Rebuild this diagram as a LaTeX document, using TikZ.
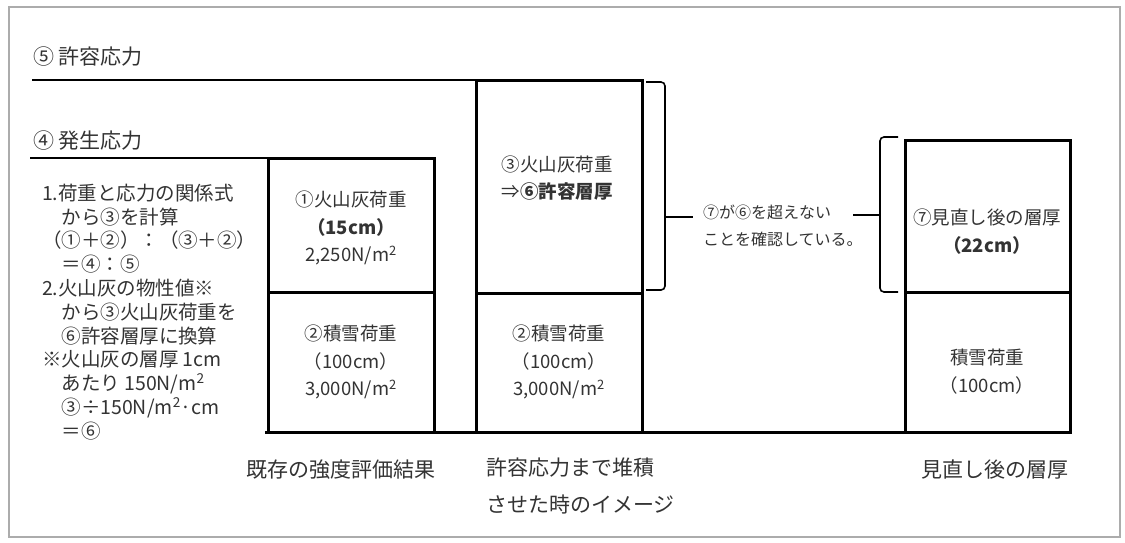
\documentclass[tikz,border=0pt]{standalone}
\usepackage{fontspec}
\setmainfont{Noto Sans CJK JP}
\usetikzlibrary{positioning}

\begin{document}
\begin{tikzpicture}
  [x=1pt,y=-1pt,every node/.style={inner sep=0pt,outer sep=0pt,text=black!80},
   bx/.style={draw=black,line width=3pt,minimum width=166pt},
   head/.style={font=\fontsize{21}{24}\selectfont,anchor=west},
   inbox/.style={font=\fontsize{18.5}{27.5}\selectfont,align=center},
   notes/.style={font=\fontsize{19.5}{23.8}\selectfont,align=left},
   small/.style={font=\fontsize{16}{27}\selectfont,align=left},
   brace/.style={line width=1.6pt,rounded corners=4pt}]
  \useasboundingbox (0,0) rectangle (1125,542);
  \draw[gray!65,line width=1.2pt] (9,7) rectangle (1120,537);

  % columns
  \node[bx,minimum height=134pt] (ash1) at (351,225) {};
  \node[bx,minimum height=140pt] (snow1) at (351,362) {};
  \node[bx,minimum height=213pt] (ash2) at (559,186.5) {};
  \node[bx,minimum height=139pt] (snow2) at (559,362.5) {};
  \node[bx,minimum width=165pt,minimum height=152pt] (ash3) at (987.5,216) {};
  \node[bx,minimum width=165pt,minimum height=140pt] (snow3) at (987.5,362) {};

  % stress levels
  \node[head] (allow) at (33,57) {⑤ 許容応力};
  \node[head] (occur) at (33,141) {④ 発生応力};
  \coordinate (lv5) at (32,80);
  \coordinate (lv4) at (30,158);
  \coordinate (base) at (265,432);
  \draw[line width=2.4pt] (lv5) -- (ash2.north west);
  \draw[line width=2.4pt] (lv4) -- (ash1.north east);
  \draw[line width=3pt] (base) -- (snow3.south east);

  \node[notes,anchor=north west] (calc) at (42,184)
    {1.荷重と応力の関係式\\
     \hspace*{1em}から③を計算\\
     （①＋②）：（③＋②）\\
     \hspace*{1em}＝④：⑤\\
     2.火山灰の物性値※\\
     \hspace*{1em}から③火山灰荷重を\\
     \hspace*{1em}⑥許容層厚に換算\\
     ※火山灰の層厚 1cm\\
     \hspace*{1em}あたり 150N/m\textsuperscript{2}\\
     \hspace*{1em}③÷150N/m\textsuperscript{2}·cm\\
     \hspace*{1em}＝⑥};

  \node[inbox] (t1) at (351,228) {①火山灰荷重\\ \textbf{（15cm）}\\ 2,250N/m\textsuperscript{2}};
  \node[inbox] (t2) at (351,362) {②積雪荷重\\ （100cm）\\ 3,000N/m\textsuperscript{2}};
  \node[inbox] (t3) at (557,178) {③火山灰荷重\\ ⇒\textbf{⑥許容層厚}};
  \node[inbox] (t4) at (559,362) {②積雪荷重\\ （100cm）\\ 3,000N/m\textsuperscript{2}};
  \node[inbox] (t5) at (987,231.5) {⑦見直し後の層厚\\ \textbf{（22cm）}};
  \node[inbox] (t6) at (987,371.5) {積雪荷重\\ （100cm）};

  % braces
  \node[small,anchor=west] (check) at (703,226) {⑦が⑥を超えない\\ ことを確認している。};
  \coordinate (br1) at (665,217);
  \coordinate (br2) at (880,215);
  \coordinate (tk1) at (693,217);
  \coordinate (tk2) at (853,215);
  \draw[brace] (646,82) -- (665,82) -- (665,290) -- (646,290);
  \draw[brace] (898,137) -- (880,137) -- (880,292) -- (898,292);
  \foreach \from/\to in {br1/tk1,br2/tk2}
    \draw[line width=1.6pt] (\from) -- (\to);

  % captions
  \node[head,anchor=center] (cap1) at (341,470) {既存の強度評価結果};
  \node[head,align=left,anchor=north west] (cap2) at (486,458) {許容応力まで堆積\\[13pt]させた時のイメージ};
  \node[head,anchor=center] (cap3) at (995,470) {見直し後の層厚};
\end{tikzpicture}
\end{document}
